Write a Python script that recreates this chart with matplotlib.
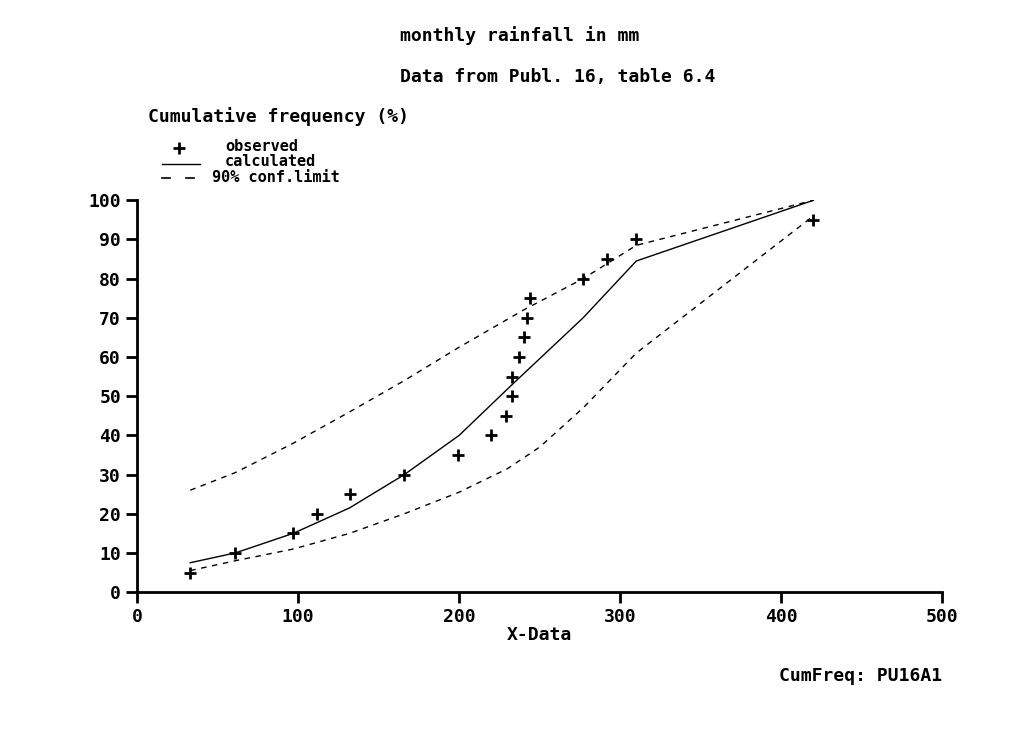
import matplotlib
matplotlib.use('Agg')
import matplotlib.pyplot as plt
from matplotlib.lines import Line2D

plt.rcParams['font.family'] = 'DejaVu Sans Mono'
plt.rcParams['font.weight'] = 'bold'
plt.rcParams['axes.labelweight'] = 'bold'

# observed points
obs_x = [33, 61, 97, 112, 132, 166, 199, 220, 229, 233, 233, 237, 240, 242, 244, 277, 292, 310, 420]
obs_y = [5, 10, 15, 20, 25, 30, 35, 40, 45, 50, 55, 60, 65, 70, 75, 80, 85, 90, 95]

# calculated curve
calc_x = [33, 61, 97, 132, 166, 200, 233, 277, 310, 420]
calc_y = [7.5, 10, 15, 21.5, 30, 40, 53, 70, 84.5, 100]

# 90% confidence limits
up_x = [33, 61, 97, 132, 166, 200, 240, 277, 310, 420]
up_y = [26, 30.5, 38, 46, 54, 62.5, 72, 80, 88.5, 100]
lo_x = [33, 61, 97, 132, 166, 200, 230, 250, 277, 310, 420]
lo_y = [5.5, 8, 11, 15, 20, 25.5, 31.5, 37, 47, 61, 96]

legend_labels = ['observed', 'calculated', '90% conf.limit']

W, H = 1023, 731
fs = 13
fig = plt.figure(figsize=(W / 100, H / 100), dpi=100)
ax = fig.add_axes([0.134, 0.19, 0.787, 0.536])

ax.plot(calc_x, calc_y, 'k-', lw=1)
ax.plot(up_x, up_y, 'k', lw=1, ls=(0, (4, 4)))
ax.plot(lo_x, lo_y, 'k', lw=1, ls=(0, (4, 4)))
ax.plot(obs_x, obs_y, 'k+', ms=9, mew=2, ls='none')

ax.set_xlim(0, 500)
ax.set_ylim(0, 100)
ax.set_xticks(range(0, 501, 100))
ax.set_yticks(range(0, 101, 10))
for s in ['top', 'right']:
    ax.spines[s].set_visible(False)
for s in ['left', 'bottom']:
    ax.spines[s].set_linewidth(2)
ax.tick_params(direction='out', length=8, width=2, labelsize=fs)
ax.set_xlabel('X-Data', fontsize=fs, labelpad=0)

fig.text(0.508, 0.952, 'monthly rainfall in mm', ha='center', va='center', fontsize=fs)
fig.text(0.545, 0.895, 'Data from Publ. 16, table 6.4', ha='center', va='center', fontsize=fs)
fig.text(0.145, 0.840, 'Cumulative frequency (%)', ha='left', va='center', fontsize=fs)
fig.text(0.921, 0.075, 'CumFreq: PU16A1', ha='right', va='center', fontsize=fs)

# hand-made legend, placed in pixel terms
def fx(px):
    return px / W

def fy(py):
    return 1 - py / H

fig.add_artist(Line2D([fx(179)], [fy(148)], color='k', marker='+', ms=9, mew=2, ls='none',
                      transform=fig.transFigure))
fig.add_artist(Line2D([fx(162), fx(200)], [fy(164), fy(164)], color='k', lw=1,
                      transform=fig.transFigure))
for x0, x1 in [(162, 170), (186, 194)]:
    fig.add_artist(Line2D([fx(x0), fx(x1)], [fy(178), fy(178)], color='k', lw=1.2,
                          transform=fig.transFigure))
fig.text(fx(225), fy(146.5), legend_labels[0], ha='left', va='center', fontsize=11)
fig.text(fx(225), fy(162), legend_labels[1], ha='left', va='center', fontsize=11)
fig.text(fx(212), fy(177.5), legend_labels[2], ha='left', va='center', fontsize=11)

fig.savefig('out.png', dpi=100)
